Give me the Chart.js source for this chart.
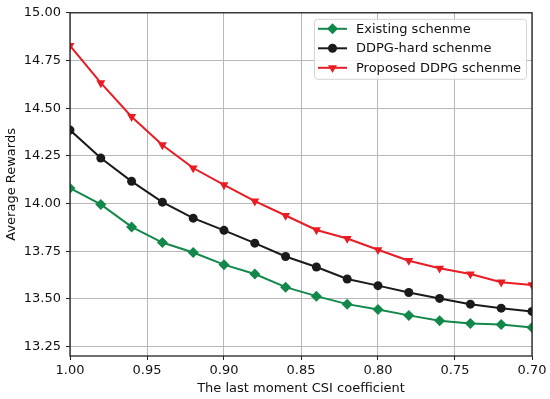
<!DOCTYPE html>
<html lang="en">
<head>
<meta charset="UTF-8">
<title>Average Rewards vs last moment CSI coefficient</title>
<script src="https://cdn.jsdelivr.net/npm/chart.js"></script>
<style>
  html, body { margin: 0; padding: 0; background: #ffffff; }
  #wrap { width: 550px; height: 399px; }
</style>
</head>
<body>
<div id="wrap"><canvas id="rewardChart" width="550" height="399"></canvas></div>
<script>
// CSI coefficient (x) values
const csiValues = [1.00, 0.98, 0.96, 0.94, 0.92, 0.90, 0.88, 0.86, 0.84, 0.82, 0.80, 0.78, 0.76, 0.74, 0.72, 0.70];

// average rewards per scheme
const existingScheme = [14.08, 13.995, 13.877, 13.795, 13.743, 13.679, 13.630, 13.561, 13.514, 13.472, 13.444, 13.413, 13.385, 13.370, 13.365, 13.349];
const ddpgHardScheme = [14.385, 14.238, 14.116, 14.007, 13.923, 13.859, 13.792, 13.722, 13.667, 13.604, 13.569, 13.533, 13.502, 13.472, 13.451, 13.434];
const proposedScheme = [14.828, 14.632, 14.455, 14.307, 14.186, 14.097, 14.012, 13.937, 13.861, 13.816, 13.757, 13.700, 13.660, 13.630, 13.587, 13.573];

const seriesNames = ['Existing schenme', 'DDPG-hard schenme', 'Proposed DDPG schenme'];

// tick labels
const xTicks = [1.00, 0.95, 0.90, 0.85, 0.80, 0.75, 0.70];
const yTicks = [13.25, 13.50, 13.75, 14.00, 14.25, 14.50, 14.75, 15.00];

const GREEN = '#12884a';
const BLACK = '#1a1a1a';
const RED = '#e91c24';
const FONT = "'DejaVu Sans', sans-serif";

function toPoints(ys) {
    return csiValues.map((x, i) => ({ x: x, y: ys[i] }));
}

// marker drawing used in the legend
function drawMarker(ctx, style, x, y, color) {
    ctx.fillStyle = color;
    ctx.beginPath();
    if (style === 'diamond') {
        const r = 5.5;
        ctx.moveTo(x, y - r); ctx.lineTo(x + r, y); ctx.lineTo(x, y + r); ctx.lineTo(x - r, y);
    } else if (style === 'circle') {
        ctx.arc(x, y, 4.5, 0, Math.PI * 2);
    } else {
        const r = 5.2;
        ctx.moveTo(x - r * 0.866, y - r * 0.5); ctx.lineTo(x + r * 0.866, y - r * 0.5); ctx.lineTo(x, y + r);
    }
    ctx.closePath();
    ctx.fill();
}

// all four spines, like matplotlib
const frame = {
    id: 'frame',
    afterDatasetsDraw(chart) {
        const a = chart.chartArea, ctx = chart.ctx;
        ctx.save();
        ctx.strokeStyle = '#222';
        ctx.lineWidth = 1.3;
        ctx.strokeRect(a.left, a.top, a.right - a.left, a.bottom - a.top);
        ctx.restore();
    }
};

const legendBox = {
    id: 'legendBox',
    afterDraw(chart) {
        const ctx = chart.ctx, a = chart.chartArea;
        const x = a.right - 218, y = a.top + 6, w = 212, h = 60;
        ctx.save();
        ctx.fillStyle = 'rgba(255,255,255,0.85)';
        ctx.strokeStyle = '#d4d4d4';
        ctx.lineWidth = 1;
        ctx.beginPath();
        ctx.roundRect(x + 0.5, y + 0.5, w, h, 3);
        ctx.fill();
        ctx.stroke();
        const styles = ['diamond', 'circle', 'triangle'];
        chart.data.datasets.forEach((ds, i) => {
            const cy = y + 10 + i * 19.5;
            ctx.strokeStyle = ds.borderColor;
            ctx.lineWidth = 2;
            ctx.beginPath();
            ctx.moveTo(x + 4, cy);
            ctx.lineTo(x + 33, cy);
            ctx.stroke();
            drawMarker(ctx, styles[i], x + 18.5, cy, ds.borderColor);
            ctx.fillStyle = '#111';
            ctx.font = '13px ' + FONT;
            ctx.textBaseline = 'middle';
            ctx.fillText(ds.label, x + 42, cy + 0.5);
        });
        ctx.restore();
    }
};

const ctx = document.getElementById('rewardChart').getContext('2d');
const rewardChart = new Chart(ctx, {
    type: 'line',
    data: {
        datasets: [{
            label: seriesNames[0],
            data: toPoints(existingScheme),
            borderColor: GREEN,
            backgroundColor: GREEN,
            borderWidth: 2,
            pointStyle: 'rectRot',
            pointRadius: 5.5,
            pointBorderWidth: 0,
            clip: 0
        }, {
            label: seriesNames[1],
            data: toPoints(ddpgHardScheme),
            borderColor: BLACK,
            backgroundColor: BLACK,
            borderWidth: 2,
            pointStyle: 'circle',
            pointRadius: 4.5,
            pointBorderWidth: 0,
            clip: 0
        }, {
            label: seriesNames[2],
            data: toPoints(proposedScheme),
            borderColor: RED,
            backgroundColor: RED,
            borderWidth: 2,
            pointStyle: 'triangle',
            pointRotation: 180,
            pointRadius: 5.2,
            pointBorderWidth: 0,
            clip: 0
        }]
    },
    options: {
        responsive: false,
        animation: false,
        layout: { padding: { top: 12, right: 18, left: 0, bottom: 0 } },
        plugins: {
            legend: { display: false },
            tooltip: { enabled: false }
        },
        scales: {
            x: {
                type: 'linear',
                reverse: true,
                min: 0.70,
                max: 1.00,
                afterBuildTicks: (scale) => { scale.ticks = xTicks.map(v => ({ value: v })); },
                afterFit: (scale) => { scale.height = 43; },
                border: { display: false },
                grid: { color: '#b8b8b8', lineWidth: 1, tickColor: '#222', tickLength: 4 },
                ticks: {
                    color: '#111',
                    font: { family: FONT, size: 13 },
                    padding: 3,
                    maxRotation: 0,
                    callback: (v) => Number(v).toFixed(2)
                },
                title: {
                    display: true,
                    text: 'The last moment CSI coefficient',
                    color: '#111',
                    font: { family: FONT, size: 13 },
                    padding: { top: 0, bottom: 3 }
                }
            },
            y: {
                min: 13.2,
                max: 15.0,
                afterBuildTicks: (scale) => { scale.ticks = yTicks.map(v => ({ value: v })); },
                afterFit: (scale) => { scale.width = 70; },
                border: { display: false },
                grid: { color: '#b8b8b8', lineWidth: 1, tickColor: '#222', tickLength: 4 },
                ticks: {
                    color: '#111',
                    font: { family: FONT, size: 13 },
                    padding: 5,
                    callback: (v) => Number(v).toFixed(2)
                },
                title: {
                    display: true,
                    text: 'Average Rewards',
                    color: '#111',
                    font: { family: FONT, size: 13 },
                    padding: { top: 4, bottom: 0 }
                }
            }
        }
    },
    plugins: [frame, legendBox]
});
</script>
</body>
</html>
